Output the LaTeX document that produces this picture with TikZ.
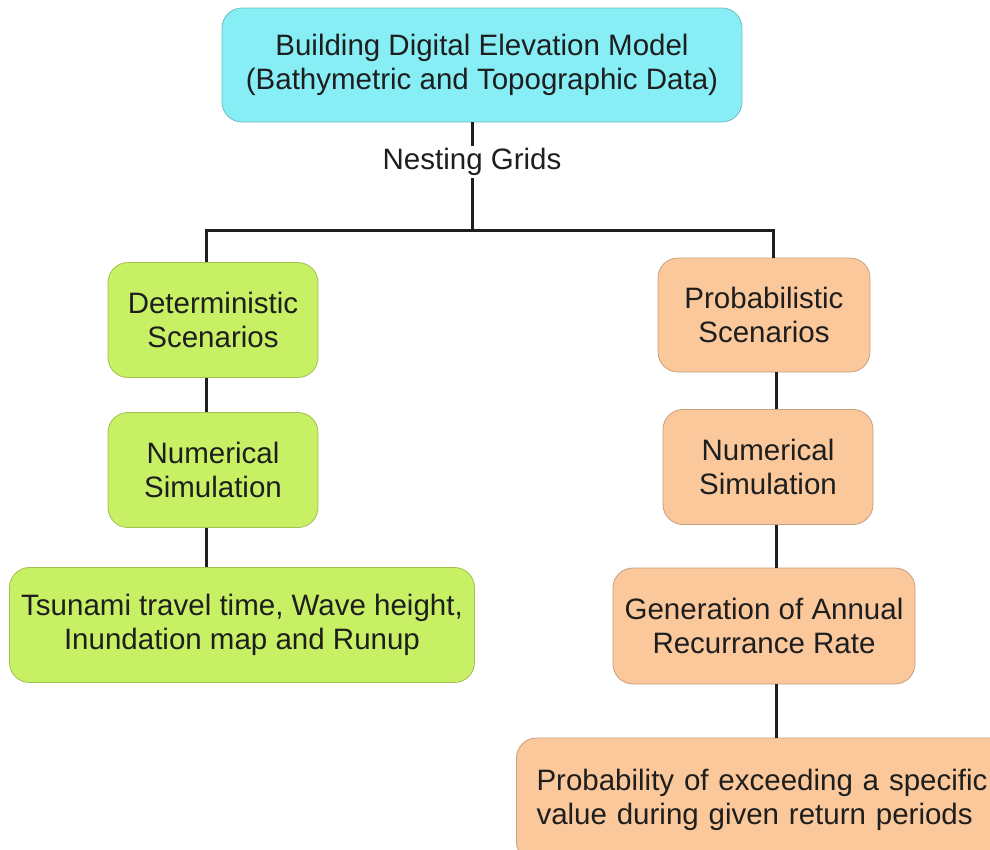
\documentclass[tikz,border=0pt]{standalone}
\usepackage{fontspec}
\setmainfont{Liberation Sans}
\begin{document}
\begin{tikzpicture}[x=1pt,y=-1pt,
  box/.style={rounded corners=20pt, draw=#1!80!black, line width=0.8pt, fill=#1, align=center,
    inner sep=0pt, text=txt, font=\fontsize{29.5}{34}\selectfont},
  conn/.style={line width=3pt, draw=lineclr},
  lbl/.style={font=\fontsize{29.5}{34}\selectfont, text=txt, inner sep=2pt}]
\definecolor{cyanbox}{RGB}{135,238,245}
\definecolor{greenbox}{RGB}{200,240,100}
\definecolor{orangebox}{RGB}{250,200,155}
\definecolor{txt}{RGB}{30,30,30}
\definecolor{lineclr}{RGB}{30,30,30}
\useasboundingbox (0,0) rectangle (990,849);
\begin{scope}
\clip (0,0) rectangle (990,849);
\node[box=cyanbox, minimum width=520pt, minimum height=114pt] (top) at (482,65)
  {Building Digital Elevation Model\\(Bathymetric and Topographic Data)};
\node[lbl] (nest) at (472,162) {Nesting Grids};
\coordinate (jc) at (472,230);
\coordinate (jl) at (206,230);
\coordinate (jr) at (773,230);

\node[box=greenbox, minimum width=210pt, minimum height=115pt] (det) at (213,320) {Deterministic\\Scenarios};
\node[box=greenbox, minimum width=210pt, minimum height=115pt] (numl) at (213,470) {Numerical\\Simulation};
\node[box=greenbox, minimum width=465pt, minimum height=115pt] (tsu) at (242,625) {Tsunami travel time, Wave height,\\Inundation map and Runup};

\node[box=orangebox, minimum width=212pt, minimum height=114pt] (prob) at (764,315) {Probabilistic\\Scenarios};
\node[box=orangebox, minimum width=210pt, minimum height=115pt] (numr) at (768,467) {Numerical\\Simulation};
\node[box=orangebox, minimum width=302pt, minimum height=116pt] (gen) at (764,626) {Generation of Annual\\Recurrance Rate};
\node[box=orangebox, minimum width=503pt, minimum height=124pt, text width=463pt, align=left] (pex) at (768,800) {Probability of exceeding a specific\\value during given return periods};

\draw[conn] (top.south -| nest) -- (nest.north);
\draw[conn] (nest.south) -- (jc);
\draw[conn] (jl |- det.north) -- (jl) -- (jr) -- (jr |- prob.north);
\draw[conn] (jl |- det.south) -- (jl |- numl.north);
\draw[conn] (jl |- numl.south) -- (jl |- tsu.north);
\draw[conn] (776,0 |- prob.south) -- (776,0 |- numr.north);
\draw[conn] (776,0 |- numr.south) -- (776,0 |- gen.north);
\draw[conn] (776,0 |- gen.south) -- (776,0 |- pex.north);
\end{scope}
\end{tikzpicture}
\end{document}
